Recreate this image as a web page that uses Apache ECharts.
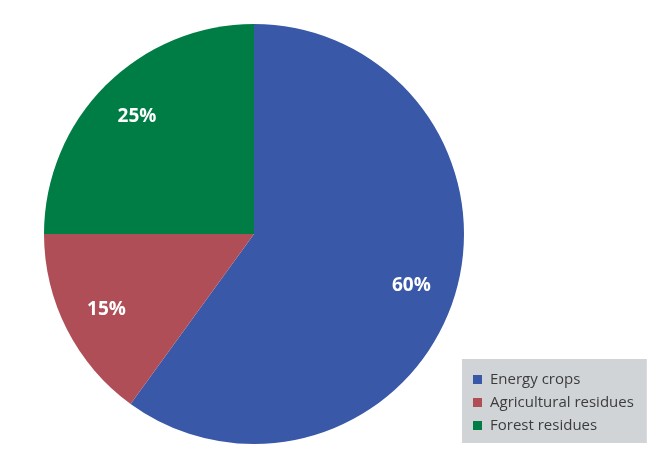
<!DOCTYPE html>
<html>
<head>
<meta charset="utf-8">
<script src="https://cdn.jsdelivr.net/npm/echarts@6/dist/echarts.min.js"></script>
<style>
  html, body { margin: 0; padding: 0; background: #fff; }
  #main { width: 672px; height: 463px; }
</style>
</head>
<body>
<div id="main"></div>
<script>
var chartDom = document.getElementById("main");
var myChart = echarts.init(chartDom);

// data
var categories = ['Energy crops', 'Agricultural residues', 'Forest residues'];
var shares = [60, 15, 25];
var colors = ['#3a58a8', '#b04e58', '#007d45'];

var pieData = categories.map(function (name, i) {
    return { name: name, value: shares[i], itemStyle: { color: colors[i] } };
});

var center = [254, 234];

option = {
    animation: false,
    legend: {
        orient: 'vertical',
        left: 462,
        top: 359,
        backgroundColor: '#d1d4d7',
        padding: [13, 13, 10, 11],
        itemWidth: 9,
        itemHeight: 9,
        itemGap: 8,
        icon: 'rect',
        textStyle: {
            fontFamily: 'Open Sans',
            fontSize: 15,
            color: '#3c3c3c',
            padding: [0, 0, 0, 3]
        },
        data: categories
    },
    series: [
        {
            type: 'pie',
            center: center,
            radius: [0, 210],
            startAngle: 90,
            clockwise: true,
            silent: true,
            label: { show: false },
            labelLine: { show: false },
            data: pieData
        },
        {
            // transparent ring only used to place the percentage labels
            type: 'pie',
            center: center,
            radius: [115, 210],
            startAngle: 90,
            clockwise: true,
            silent: true,
            legendHoverLink: false,
            itemStyle: { color: 'transparent' },
            label: {
                show: true,
                position: 'inside',
                formatter: '{c}%',
                color: '#fff',
                fontFamily: 'Open Sans',
                fontWeight: 'bold',
                fontSize: 19
            },
            labelLine: { show: false },
            data: categories.map(function (name, i) {
                return { name: name + ' ', value: shares[i] };
            })
        }
    ]
};
myChart.setOption(option);
</script>
</body>
</html>
